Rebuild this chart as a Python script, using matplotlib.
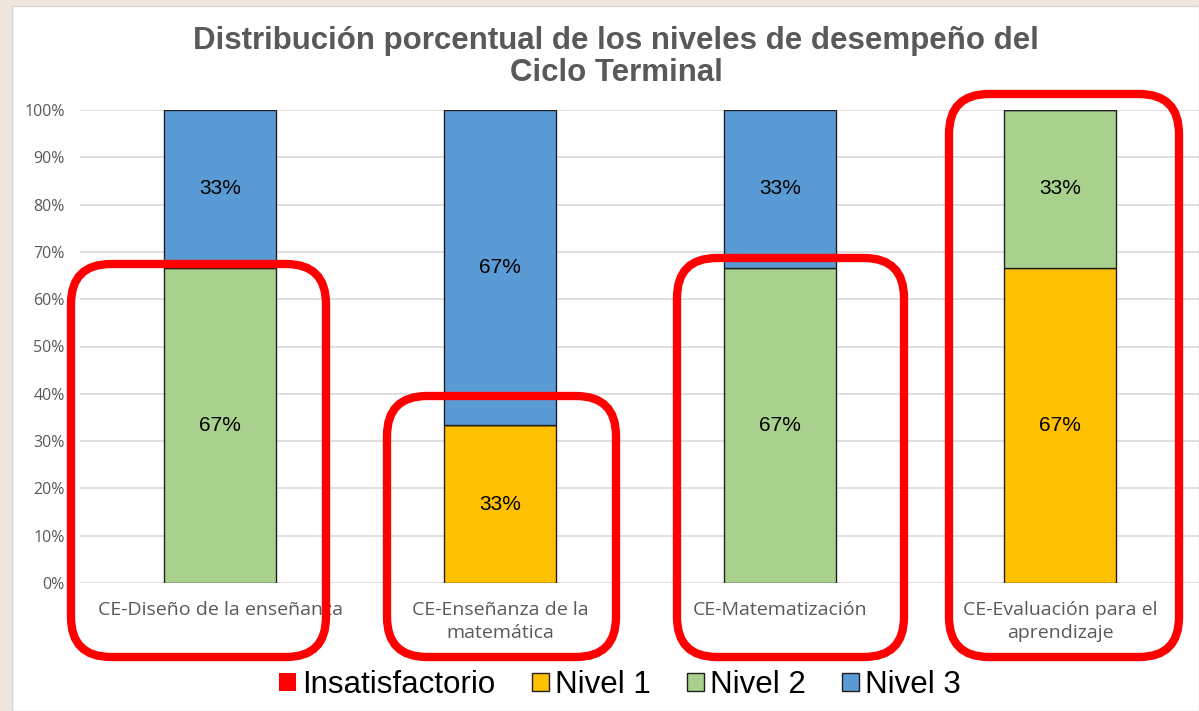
import matplotlib
matplotlib.use("Agg")
import matplotlib.pyplot as plt
from matplotlib.patches import Patch, FancyBboxPatch, Rectangle
import numpy as np

# ---------------- data ----------------
categories = [
    "CE-Diseño de la enseñanza",
    "CE-Enseñanza de la\nmatemática",
    "CE-Matematización",
    "CE-Evaluación para el\naprendizaje",
]
series_names = ["Insatisfactorio", "Nivel 1", "Nivel 2", "Nivel 3"]
insatisfactorio = [0, 0, 0, 0]
nivel_1 = [0, 33.33, 0, 66.67]
nivel_2 = [66.67, 0, 66.67, 33.33]
nivel_3 = [33.33, 66.67, 33.33, 0]
y_ticks = list(range(0, 101, 10))
y_tick_labels = [f"{t}%" for t in y_ticks]
title = "Distribución porcentual de los niveles de desempeño del\nCiclo Terminal"

# ---------------- style ----------------
colors = ["#FF0000", "#FFC000", "#A9D18E", "#5B9BD5"]
W, H = 1199, 711
gray_text = "#595959"
sans = ["Liberation Sans", "DejaVu Sans"]
label_font = ["Open Sans", "DejaVu Sans"]
tick_font = ["Open Sans", "DejaVu Sans"]

# highlight boxes (annotation, in pixel coords: left, top, right, bottom)
highlight_boxes = [
    (71, 264, 326, 657),
    (387, 396, 616, 657),
    (677, 258, 904, 657),
    (949, 94, 1179, 657),
]

fig = plt.figure(figsize=(W / 100, H / 100), dpi=100, facecolor="#eee7de")
fig.patches.append(
    Rectangle((12 / W, 0), 1 - 12 / W, 1 - 6 / H, transform=fig.transFigure,
              facecolor="white", edgecolor="#d6d6d6", lw=1, zorder=-10)
)

ax = fig.add_axes([80 / W, 1 - 583 / H, 1120 / W, 473 / H])
ax.set_facecolor("none")

x = np.arange(len(categories))
bottom = np.zeros(len(categories))
series = [insatisfactorio, nivel_1, nivel_2, nivel_3]
for name, vals, c in zip(series_names, series, colors):
    vals = np.array(vals, dtype=float)
    ax.bar(x, vals, 0.4, bottom=bottom, color=c, edgecolor="#1f1f1f",
           linewidth=1.0, zorder=3, label=name)
    for xi, v, b in zip(x, vals, bottom):
        if v > 0:
            ax.text(xi, b + v / 2, f"{v:.0f}%", ha="center", va="center",
                    fontsize=15, color="black", family=sans, zorder=4)
    bottom += vals

ax.set_xlim(-0.5, 3.5)
ax.set_ylim(0, 100)
ax.set_yticks(y_ticks)
ax.set_yticklabels(y_tick_labels, family=tick_font, fontsize=11.5, color=gray_text)
ax.set_xticks(x)
ax.set_xticklabels(categories, family=label_font, fontsize=14, color=gray_text,
                   linespacing=1.35, va="top")
ax.tick_params(axis="both", length=0)
ax.tick_params(axis="y", pad=11)
ax.tick_params(axis="x", pad=13)
ax.grid(axis="y", color="#d9d9d9", linewidth=1.2, zorder=0)
ax.set_axisbelow(True)
for s in ax.spines.values():
    s.set_visible(False)

fig.text(616 / W, 1 - 57 / H, title, ha="center", va="center", fontsize=22.5,
         fontweight="bold", color=gray_text, family=sans, linespacing=1.08)

handles = [
    Patch(facecolor=colors[0], edgecolor="none"),
    Patch(facecolor=colors[1], edgecolor="#1f1f1f", linewidth=1),
    Patch(facecolor=colors[2], edgecolor="#1f1f1f", linewidth=1),
    Patch(facecolor=colors[3], edgecolor="#1f1f1f", linewidth=1),
]
fig.legend(handles, series_names, loc="center", bbox_to_anchor=(620 / W, 1 - 685 / H),
           ncol=4, frameon=False, handlelength=0.55, handleheight=0.55,
           handletextpad=0.2, columnspacing=1.15, borderaxespad=0,
           prop={"family": sans, "size": 22.5})

# overlay for highlight boxes
ov = fig.add_axes([0, 0, 1, 1], zorder=5)
ov.set_xlim(0, W)
ov.set_ylim(H, 0)
ov.axis("off")
ov.patch.set_alpha(0)
for (l, t, r, b) in highlight_boxes:
    ov.add_patch(FancyBboxPatch((l, t), r - l, b - t,
                                boxstyle="round,pad=0,rounding_size=40",
                                facecolor="none", edgecolor="#FF0000", linewidth=6))

fig.savefig("out.png", dpi=100, facecolor=fig.get_facecolor())
